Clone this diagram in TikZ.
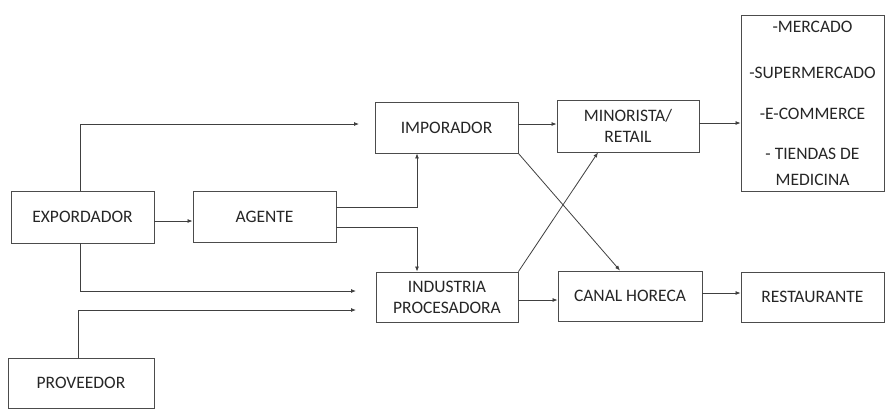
\documentclass[tikz,border=0pt]{standalone}
\usepackage{fontspec}
\setmainfont{Carlito}
\usetikzlibrary{arrows.meta,calc}
\begin{document}
\begin{tikzpicture}[x=1pt,y=-1pt,
  box/.style={draw=black!70,line width=0.9pt,rectangle,inner sep=0pt,align=center,
    text=black!85,font=\fontsize{17.5}{21}\selectfont},
  arr/.style={draw=black!75,line width=0.8pt,-{Latex[length=5pt,width=4pt]}}]
\useasboundingbox[fill=white] (0,0) rectangle (890,413);
\node[box,minimum width=143,minimum height=52] (exp) at (82.5,217) {EXPORDADOR};
\node[box,minimum width=143,minimum height=51] (age) at (264.5,216.5) {AGENTE};
\node[box,minimum width=143,minimum height=51] (imp) at (446.5,127.5) {IMPORADOR};
\node[box,minimum width=142,minimum height=52] (min) at (628,126) {MINORISTA/\\RETAIL};
\node[box,minimum width=142,minimum height=50] (ind) at (447,297) {INDUSTRIA\\PROCESADORA};
\node[box,minimum width=144,minimum height=50] (can) at (630,296) {CANAL HORECA};
\node[box,minimum width=143,minimum height=176] (lst) at (812.5,103)
  {-MERCADO\\[25pt]-SUPERMERCADO\\[20pt]-E-COMMERCE\\[19pt]- TIENDAS DE\\[5pt]MEDICINA};
\node[box,minimum width=143,minimum height=50] (res) at (812.5,297) {RESTAURANTE};
\node[box,minimum width=146,minimum height=50] (pro) at (81,383) {PROVEEDOR};
\coordinate (t1) at (359,124);
\coordinate (t2) at (356,291);
\coordinate (t3) at (356,310);
\draw[arr] ([xshift=-2.5pt]exp.north) |- (t1);
\draw[arr] ([yshift=-4pt]exp.east) -- ([yshift=-4pt]exp.east -| age.west);
\draw[arr] ([yshift=9.5pt]age.east) -| ([xshift=-29.5pt]imp.south);
\draw[arr] ([yshift=-10.5pt]age.east) -| ([xshift=-30pt]ind.north);
\draw[arr] ([xshift=-2.5pt]exp.south) |- (t2);
\draw[arr] ([xshift=-3pt]pro.north) |- (t3);
\draw[arr] ([yshift=3.5pt]imp.east) -- ([yshift=3.5pt]imp.east -| min.west);
\draw[arr] ([yshift=3pt]min.east) -- ([yshift=3pt]min.east -| lst.west);
\draw[arr] (imp.south east) -- ([xshift=-10pt]can.north);
\draw[arr] (ind.north east) -- ([xshift=-30pt]min.south);
\draw[arr] ([yshift=-3pt]ind.east) -- ([yshift=-3pt]ind.east -| can.west);
\draw[arr] ([yshift=3pt]can.east) -- ([yshift=3pt]can.east -| res.west);
\end{tikzpicture}
\end{document}
